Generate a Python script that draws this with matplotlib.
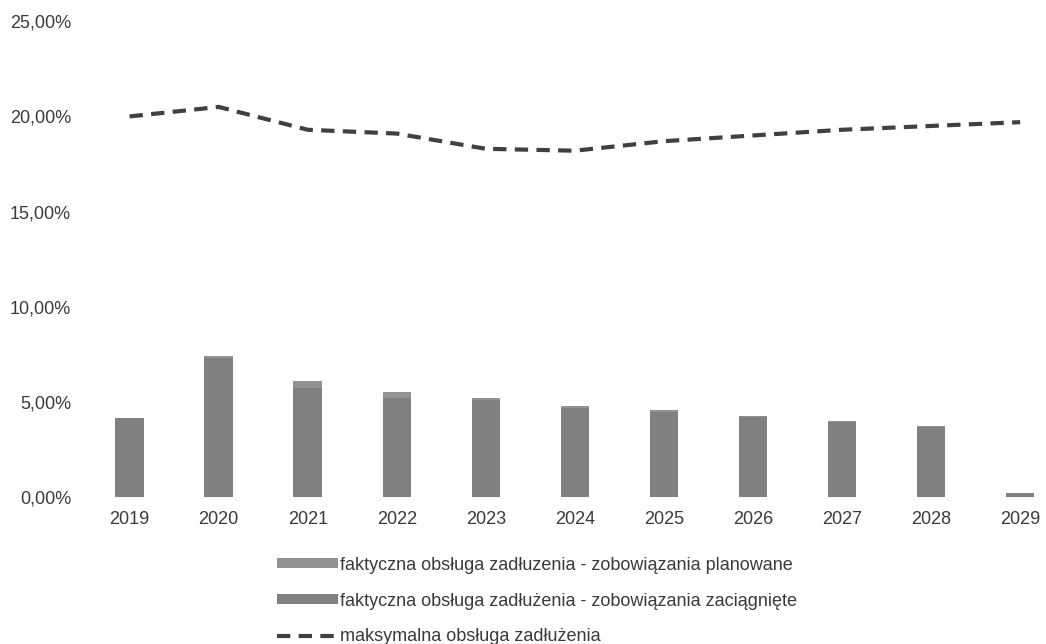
import matplotlib.pyplot as plt
import numpy as np
from matplotlib.ticker import FuncFormatter

plt.rcParams['font.family'] = ['Liberation Sans', 'DejaVu Sans']

years = ['2019', '2020', '2021', '2022', '2023', '2024', '2025', '2026', '2027', '2028', '2029']
# faktyczna obsluga - zobowiazania zaciagniete (%)
zaciagniete = [4.15, 7.3, 5.75, 5.2, 5.1, 4.7, 4.5, 4.2, 3.95, 3.7, 0.2]
# faktyczna obsluga - zobowiazania planowane (%)
planowane = [0.0, 0.1, 0.35, 0.3, 0.1, 0.1, 0.1, 0.05, 0.05, 0.05, 0.0]
# maksymalna obsluga zadluzenia (%)
maksymalna = [20.0, 20.5, 19.3, 19.1, 18.3, 18.2, 18.7, 19.0, 19.3, 19.5, 19.7]

x = np.arange(len(years))

fig = plt.figure(figsize=(10.46, 6.44), dpi=100)
ax = fig.add_axes([0.0813, 0.228, 0.9187, 0.739])

b1 = ax.bar(x, zaciagniete, width=0.32, color='#808080', zorder=2)
b2 = ax.bar(x, planowane, width=0.32, bottom=zaciagniete, color='#929292', zorder=2)
ln, = ax.plot(x, maksymalna, color='#404040', lw=3, dashes=(3.2, 2), zorder=3)

ax.set_ylim(0, 25)
ax.set_xlim(-0.5, 10.29)
ax.set_yticks(np.arange(0, 26, 5))
ax.yaxis.set_major_formatter(FuncFormatter(lambda v, p: ('%.2f%%' % v).replace('.', ',')))
ax.set_xticks(x)
ax.set_xticklabels(years)
ax.tick_params(length=0, labelsize=13, colors='#3a3a3a')
ax.tick_params(axis='y', pad=10)
ax.tick_params(axis='x', pad=10)
for s in ax.spines.values():
    s.set_visible(False)

fig.legend([b2, b1, ln],
           ['faktyczna obsługa zadłuzenia - zobowiązania planowane',
            'faktyczna obsługa zadłużenia - zobowiązania zaciągnięte',
            'maksymalna obsługa zadłużenia'],
           loc='upper left', bbox_to_anchor=(0.258, 0.147), frameon=False,
           fontsize=13, handlelength=3.4, handleheight=0.45, labelspacing=1.05,
           handletextpad=0.1, labelcolor='#3a3a3a', borderaxespad=0)

plt.savefig('out.png')
